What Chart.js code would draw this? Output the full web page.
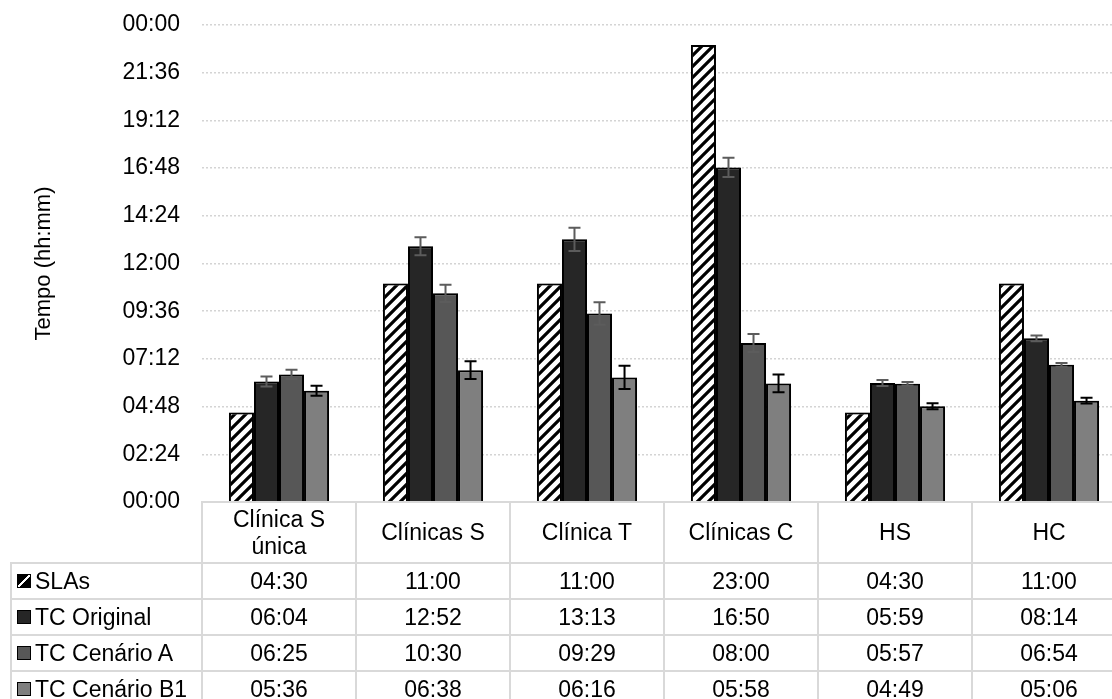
<!DOCTYPE html>
<html lang="pt">
<head>
    <meta charset="UTF-8">
    <title>Tempo por clínica</title>
    <style>
        html, body { margin: 0; padding: 0; background: #fff; overflow: hidden; }
        #wrap { position: relative; width: 1112px; height: 699px; overflow: hidden; }
        #myChart { position: absolute; left: 0; top: 0; }
        #tabela {
            position: absolute;
            border-collapse: collapse;
            table-layout: fixed;
            font-family: "Liberation Sans", Arial, sans-serif;
            font-size: 23px;
            color: #000;
        }
        #tabela td, #tabela th {
            border: 2px solid #d9d9d9;
            text-align: center;
            font-weight: normal;
            padding: 0 8px;
            line-height: 27px;
            white-space: normal;
            background: #fff;
        }
        #tabela th.vazio { border: none; background: transparent; }
        #tabela td.serie { text-align: left; padding-left: 5px; white-space: nowrap; }
        .cor {
            display: inline-block;
            width: 12px; height: 12px;
            border: 1px solid #000;
            margin-right: 4px;
            vertical-align: 1px;
        }
    </style>
</head>
<body>
<div id="wrap">
    <canvas id="myChart" width="1126" height="522"></canvas>
    <table id="tabela"></table>
</div>

<script src="https://cdn.jsdelivr.net/npm/chart.js"></script>
<script>
    const categorias = ['Clínica S única', 'Clínicas S', 'Clínica T', 'Clínicas C', 'HS', 'HC'];
    const series = ['SLAs', 'TC Original', 'TC Cenário A', 'TC Cenário B1'];

    // valores em hh:mm
    const slas        = ['04:30', '11:00', '11:00', '23:00', '04:30', '11:00'];
    const tcOriginal  = ['06:04', '12:52', '13:13', '16:50', '05:59', '08:14'];
    const tcCenarioA  = ['06:25', '10:30', '09:29', '08:00', '05:57', '06:54'];
    const tcCenarioB1 = ['05:36', '06:38', '06:16', '05:58', '04:49', '05:06'];

    // barras de erro (+/- minutos)
    const erroOriginal  = [15, 27, 35, 29, 9, 9];
    const erroCenarioA  = [14, 26, 34, 27, 5, 6];
    const erroCenarioB1 = [15, 27, 35, 27, 9, 9];

    // eixo y: 00:00 a 24:00 em passos de 02:24
    const yMin = 0, yMax = 1440, yPasso = 144;

    const cores = [null, '#262626', '#575757', '#7f7f7f'];
    const coresErro = [null, '#5c5c5c', '#5c5c5c', '#000000'];

    function paraMinutos(t) {
        const p = t.split(':');
        return Number(p[0]) * 60 + Number(p[1]);
    }
    function paraHora(m) {
        m = Math.round(m) % 1440;
        const h = Math.floor(m / 60), mm = m % 60;
        return String(h).padStart(2, '0') + ':' + String(mm).padStart(2, '0');
    }

    function hachura() {
        const s = 11;
        const c = document.createElement('canvas');
        c.width = s; c.height = s;
        const g = c.getContext('2d');
        g.fillStyle = '#fff';
        g.fillRect(0, 0, s, s);
        g.strokeStyle = '#000';
        g.lineWidth = 3.2;
        g.beginPath();
        g.moveTo(-3, s + 3); g.lineTo(s + 3, -3);
        g.moveTo(-3, 3); g.lineTo(3, -3);
        g.moveTo(s - 3, s + 3); g.lineTo(s + 3, s - 3);
        g.stroke();
        return g.createPattern(c, 'repeat');
    }
    const padrao = hachura();

    const valores = [slas, tcOriginal, tcCenarioA, tcCenarioB1];
    const erros = [null, erroOriginal, erroCenarioA, erroCenarioB1];

    const sombra = {
        id: 'sombra',
        beforeDatasetsDraw(chart) {
            const ctx = chart.ctx;
            ctx.save();
            ctx.shadowColor = 'rgba(0,0,0,0.4)';
            ctx.shadowBlur = 8;
            ctx.shadowOffsetX = 3;
            ctx.shadowOffsetY = 1;
        },
        afterDatasetsDraw(chart) {
            chart.ctx.restore();
        }
    };

    const barrasErro = {
        id: 'barrasErro',
        afterDatasetsDraw(chart) {
            const ctx = chart.ctx, y = chart.scales.y;
            erros.forEach((lista, k) => {
                if (!lista) return;
                const meta = chart.getDatasetMeta(k);
                meta.data.forEach((bar, i) => {
                    const v = chart.data.datasets[k].data[i];
                    const yt = y.getPixelForValue(v + lista[i]);
                    const yb = y.getPixelForValue(v - lista[i]);
                    ctx.save();
                    ctx.strokeStyle = coresErro[k];
                    ctx.lineWidth = 2;
                    ctx.beginPath();
                    ctx.moveTo(bar.x, yt); ctx.lineTo(bar.x, yb);
                    ctx.moveTo(bar.x - 6, yt); ctx.lineTo(bar.x + 6, yt);
                    ctx.moveTo(bar.x - 6, yb); ctx.lineTo(bar.x + 6, yb);
                    ctx.stroke();
                    ctx.restore();
                });
            });
        }
    };

    const ctx = document.getElementById('myChart');
    const chart = new Chart(ctx, {
        type: 'bar',
        data: {
            labels: categorias,
            datasets: series.map((nome, k) => ({
                label: nome,
                data: valores[k].map(paraMinutos),
                backgroundColor: k === 0 ? padrao : cores[k],
                borderColor: '#000',
                borderWidth: 2,
                categoryPercentage: 0.65,
                barPercentage: 1.0
            }))
        },
        options: {
            responsive: false,
            animation: false,
            layout: { padding: { top: 25, left: 0, right: 0, bottom: 20 } },
            plugins: {
                legend: { display: false },
                tooltip: { enabled: false }
            },
            scales: {
                x: { display: false },
                y: {
                    min: yMin,
                    max: yMax,
                    afterFit(scale) {
                        scale.width = 202;
                        scale.paddingTop = 0;
                        scale.paddingBottom = 0;
                    },
                    ticks: {
                        stepSize: yPasso,
                        padding: 22,
                        color: '#000',
                        font: { family: '"Liberation Sans", Arial, sans-serif', size: 23 },
                        callback: v => paraHora(v)
                    },
                    grid: { color: '#d4d4d4', lineWidth: 1.5, drawTicks: false },
                    border: { display: false, dash: [2, 2] },
                    title: {
                        display: true,
                        text: 'Tempo (hh:mm)',
                        color: '#000',
                        padding: { top: 31, bottom: 0 },
                        font: { family: '"Liberation Sans", Arial, sans-serif', size: 22 }
                    }
                }
            }
        },
        plugins: [sombra, barrasErro]
    });

    function montaTabela() {
        const area = chart.chartArea;
        const larg = (area.right - area.left) / categorias.length;
        const esq = 11;
        const tab = document.getElementById('tabela');
        tab.style.left = (esq - 1) + 'px';
        tab.style.top = (area.bottom - 1) + 'px';
        tab.style.width = ((area.left - esq) + larg * categorias.length) + 'px';

        let html = '<colgroup><col style="width:' + (area.left - esq) + 'px">';
        categorias.forEach(() => { html += '<col style="width:' + larg + 'px">'; });
        html += '</colgroup>';
        html += '<tr style="height:61px"><th class="vazio"></th>';
        categorias.forEach(c => { html += '<th>' + c + '</th>'; });
        html += '</tr>';
        series.forEach((nome, k) => {
            const fundo = k === 0
                ? 'background:linear-gradient(135deg,#000 0 42%,#fff 42% 58%,#000 58% 100%)'
                : 'background:' + cores[k];
            html += '<tr style="height:36px"><td class="serie"><span class="cor" style="' + fundo + '"></span>' + nome + '</td>';
            valores[k].forEach(v => { html += '<td>' + v + '</td>'; });
            html += '</tr>';
        });
        tab.innerHTML = html;
    }
    montaTabela();
</script>
</body>
</html>
